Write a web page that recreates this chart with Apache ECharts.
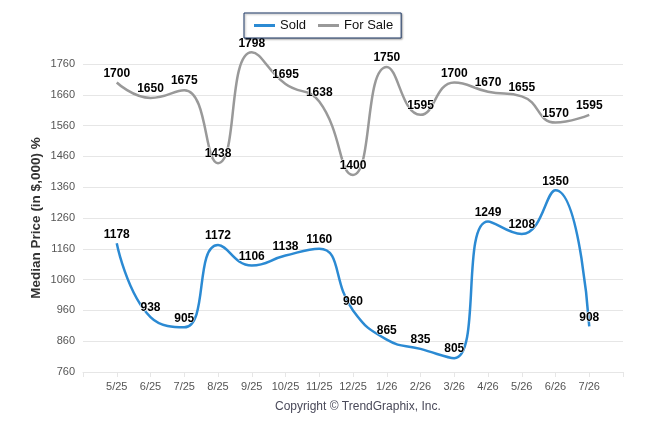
<!DOCTYPE html>
<html>
<head>
<meta charset="utf-8">
<script src="https://cdn.jsdelivr.net/npm/echarts@6/dist/echarts.min.js"></script>
<style>
  html, body { margin: 0; padding: 0; background: #fff; }
  #chart { width: 646px; height: 434px; }
</style>
</head>
<body>
<div id="chart"></div>
<script>
var months = ['5/25', '6/25', '7/25', '8/25', '9/25', '10/25', '11/25', '12/25',
              '1/26', '2/26', '3/26', '4/26', '5/26', '6/26', '7/26'];
var sold = [1178, 938, 905, 1172, 1106, 1138, 1160, 960, 865, 835, 805, 1249, 1208, 1350, 908];
var forSale = [1700, 1650, 1675, 1438, 1798, 1695, 1638, 1400, 1750, 1595, 1700, 1670, 1655, 1570, 1595];

// one empty slot on each side, like the original axis
var xData = [''].concat(months, ['']);
function pad(arr) { return [null].concat(arr, [null]); }

var chart = echarts.init(document.getElementById('chart'));

var labelStyle = {
    show: true,
    position: 'top',
    distance: 3,
    color: '#000',
    fontSize: 12,
    fontWeight: 'bold',
    fontFamily: 'Liberation Sans, Arial, sans-serif',
    textBorderColor: '#fff',
    textBorderWidth: 1
};

var option = {
    animation: false,
    textStyle: { fontFamily: 'Liberation Sans, Arial, sans-serif' },
    legend: {
        left: 244,
        top: 13,
        padding: [6, 8, 6, 10],
        itemGap: 12,
        itemWidth: 21,
        itemHeight: 3,
        borderColor: '#1c3867',
        borderWidth: 1,
        shadowColor: 'rgba(0,0,0,0.35)',
        shadowBlur: 2,
        shadowOffsetX: 1,
        shadowOffsetY: 1,
        backgroundColor: '#fff',
        textStyle: { fontSize: 13, color: '#111' },
        data: [
            { name: 'Sold', icon: 'rect' },
            { name: 'For Sale', icon: 'rect' }
        ]
    },
    grid: { left: 83, right: 23, top: 64, bottom: 62 },
    xAxis: {
        type: 'category',
        boundaryGap: false,
        data: xData,
        axisLine: { lineStyle: { color: '#e6e6e6' } },
        axisTick: { show: true, length: 5, alignWithLabel: true, lineStyle: { color: '#e6e6e6' } },
        axisLabel: { color: '#555', fontSize: 11, margin: 9, interval: 0 },
        splitLine: { show: false }
    },
    yAxis: {
        type: 'value',
        min: 760,
        max: 1760,
        interval: 100,
        name: 'Median Price (in $,000) %',
        nameLocation: 'middle',
        nameGap: 40,
        nameMoveOverlap: false,
        nameTextStyle: { fontSize: 13.5, fontWeight: 'bold', color: '#333' },
        axisLine: { show: false },
        axisTick: { show: false },
        axisLabel: {
            color: '#555',
            fontSize: 11,
            margin: 8,
            formatter: function (v) { return String(v); }
        },
        splitLine: { lineStyle: { color: '#e6e6e6' } }
    },
    series: [
        {
            name: 'Sold',
            type: 'line',
            data: pad(sold),
            smooth: 0.5,
            clip: false,
            symbol: 'circle',
            symbolSize: 0,
            color: '#2b8ad3',
            lineStyle: { width: 2.5, color: '#2b8ad3' },
            label: labelStyle
        },
        {
            name: 'For Sale',
            type: 'line',
            data: pad(forSale),
            smooth: 0.5,
            clip: false,
            symbol: 'circle',
            symbolSize: 0,
            color: '#999999',
            lineStyle: { width: 2.5, color: '#999999' },
            label: labelStyle
        }
    ],
    graphic: [
        {
            type: 'text',
            left: 353 - 78,
            top: 401,
            style: {
                text: 'Copyright \u00A9 TrendGraphix, Inc.',
                fill: '#4a4a5a',
                fontSize: 12,
                fontFamily: 'Liberation Sans, Arial, sans-serif'
            }
        }
    ]
};

chart.setOption(option);
</script>
</body>
</html>
